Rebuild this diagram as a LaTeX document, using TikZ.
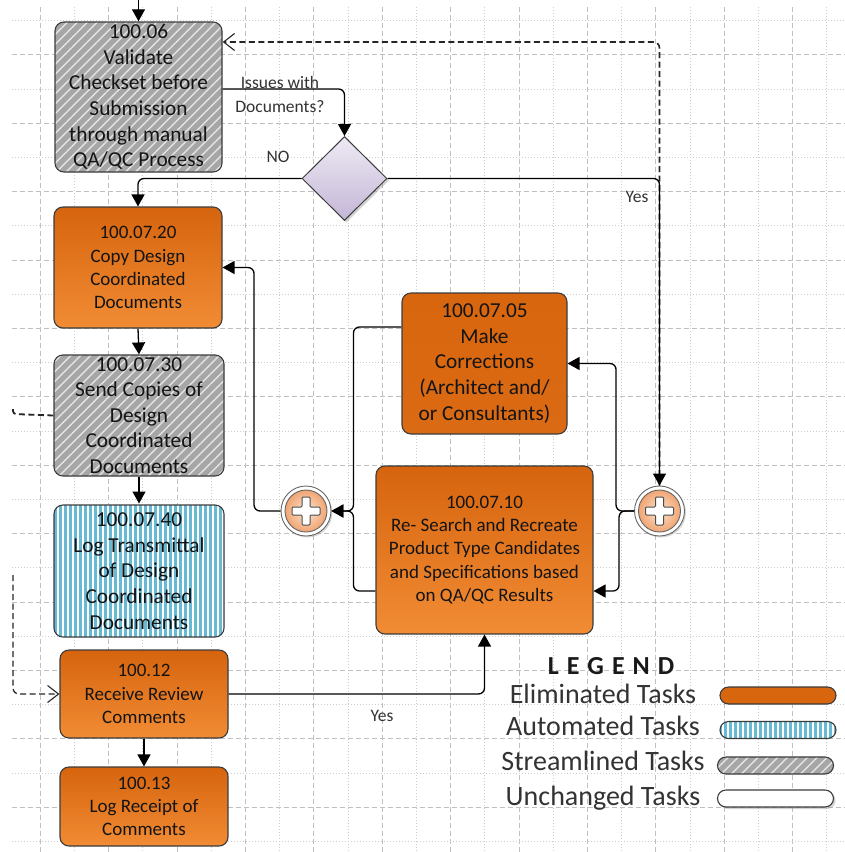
\documentclass[tikz,border=0pt]{standalone}
\usepackage{fontspec}
\setmainfont{Carlito}
\usetikzlibrary{arrows.meta,shapes.geometric,patterns.meta,calc,shadows}

\definecolor{boxline}{RGB}{60,60,60}
\definecolor{txt}{RGB}{20,20,20}
\definecolor{orTop}{RGB}{214,100,14}
\definecolor{orBot}{RGB}{241,140,52}
\definecolor{orFlat}{RGB}{216,102,14}
\definecolor{hatchBg}{RGB}{166,166,166}
\definecolor{hatchLn}{RGB}{228,228,228}
\definecolor{stripeBl}{RGB}{104,186,212}
\definecolor{lavTop}{RGB}{238,234,244}
\definecolor{lavBot}{RGB}{196,182,214}
\definecolor{peachIn}{RGB}{253,228,208}
\definecolor{peachOut}{RGB}{240,165,115}
\definecolor{gridc}{RGB}{192,192,192}

\tikzset{
  task/.style={rectangle, rounded corners=9pt, draw=boxline, line width=1.1pt,
    inner sep=0pt, align=center, text=txt},
  eliminated/.style={task, top color=orTop, bottom color=orBot},
  streamlined/.style={task, preaction={fill=hatchBg},
    pattern={Lines[angle=45,distance=7pt,line width=1.4pt]}, pattern color=hatchLn},
  automated/.style={task, preaction={fill=white},
    pattern={Lines[angle=90,distance=5pt,line width=3pt]}, pattern color=stripeBl},
  bigtxt/.style={font=\fontsize{21.3}{25.6}\selectfont},
  midtxt/.style={font=\fontsize{19}{23.2}\selectfont},
  decision/.style={diamond, minimum width=85pt, minimum height=84pt, inner sep=0pt,
    draw=boxline, line width=1pt, top color=lavTop, bottom color=lavBot,
    drop shadow={opacity=0.35, shadow xshift=2pt, shadow yshift=-2pt}},
  gateway/.style={circle, minimum size=50pt, inner sep=0pt, draw=black!60,
    line width=0.9pt, fill=white,
    drop shadow={opacity=0.3, shadow xshift=1.5pt, shadow yshift=-1.5pt}},
  flow/.style={draw=black, line width=1.3pt, rounded corners=6pt,
    -{Triangle[length=12pt,width=13pt]}},
  msg/.style={draw=black!85, line width=1.6pt, dash pattern=on 6pt off 3.5pt,
    rounded corners=6pt, -{Straight Barb[length=11pt,width=17pt,line width=1.1pt]}},
  msgplain/.style={draw=black!85, line width=1.8pt, dash pattern=on 6pt off 3.5pt,
    rounded corners=3pt},
  lbl/.style={font=\fontsize{17.5}{24}\selectfont, text=black!80, align=center, inner sep=0pt},
  legtxt/.style={font=\fontsize{28}{30}\selectfont, text=black!80, anchor=base},
  pill/.style={rectangle, rounded corners=8.5pt, minimum width=116pt, minimum height=17pt,
    inner sep=0pt, draw=boxline, line width=1.1pt},
}

% inner ring and plus sign of a parallel gateway
\newcommand\gwmark[1]{%
  \shade[inner color=peachIn, outer color=peachOut] (#1.center) circle (21pt);
  \draw[black!60, line width=0.9pt] (#1.center) circle (21pt);
  \filldraw[fill=white, draw=black!70, line width=1pt, rounded corners=1pt, shift={(#1.center)}]
    (-4,-14) -- (4,-14) -- (4,-4) -- (14,-4) -- (14,4) -- (4,4) -- (4,14) -- (-4,14)
    -- (-4,4) -- (-14,4) -- (-14,-4) -- (-4,-4) -- cycle;
}

\begin{document}
\begin{tikzpicture}[x=1pt, y=-1pt]
\useasboundingbox (0,0) rectangle (845,852);
\fill[white] (0,0) rectangle (845,852);

% background grid
\foreach \k in {1,...,24} {
  \pgfmathsetmacro\gx{6+34.2*\k}
  \ifodd\k\relax
    \draw[gridc, line width=1pt, dash pattern=on 5pt off 3pt] (\gx,7) -- (\gx,852);
  \else
    \draw[gridc!80, line width=1pt, dash pattern=on 1.2pt off 1.8pt] (\gx,7) -- (\gx,852);
  \fi
}
\foreach \k in {0,...,24} {
  \pgfmathsetmacro\gy{20.7+34.2*\k}
  \ifodd\k\relax
    \draw[gridc, line width=1pt, dash pattern=on 5pt off 3pt] (12,\gy) -- (845,\gy);
  \else
    \draw[gridc!80, line width=1pt, dash pattern=on 1.2pt off 1.8pt] (12,\gy) -- (845,\gy);
  \fi
}

% tasks
\node[streamlined, bigtxt, minimum width=167pt, minimum height=150pt] (n06) at (138.5,97)
  {100.06\\Validate\\Checkset before\\Submission\\through manual\\QA/QC Process};
\node[eliminated, midtxt, minimum width=168pt, minimum height=121pt] (n0720) at (138,267.5)
  {100.07.20\\Copy Design\\Coordinated\\Documents};
\node[streamlined, bigtxt, minimum width=170pt, minimum height=121pt] (n0730) at (139,415.5)
  {100.07.30\\Send Copies of\\Design\\Coordinated\\Documents};
\node[automated, bigtxt, minimum width=170pt, minimum height=132pt] (n0740) at (139,571)
  {100.07.40\\Log Transmittal\\of Design\\Coordinated\\Documents};
\node[eliminated, midtxt, minimum width=168pt, minimum height=88pt] (n12) at (144,694)
  {100.12\\Receive Review\\Comments};
\node[eliminated, midtxt, minimum width=168pt, minimum height=79pt] (n13) at (144,806.5)
  {100.13\\Log Receipt of\\Comments};
\node[task, bigtxt, top color=orFlat, bottom color=orTop!85!orBot, minimum width=165pt,
  minimum height=141pt] (n0705) at (484.5,363.5)
  {100.07.05\\Make\\Corrections\\(Architect and/\\or Consultants)};
\node[eliminated, midtxt, minimum width=217pt, minimum height=168pt] (n0710) at (484.5,550)
  {100.07.10\\Re- Search and Recreate\\Product Type Candidates\\and Specifications based\\on QA/QC Results};

% decision and gateways
\node[decision] (dm) at (344.5,178.5) {};
\node[gateway] (gR) at (659.5,511) {};
\gwmark{gR}
\node[gateway] (gL) at (306,511) {};
\gwmark{gL}

% free ends of the connectors that leave the frame
\coordinate (topin) at (138.5,0);
\coordinate (msgout) at (13,414);
\coordinate (msgin) at (13,575);

% sequence flows
\draw[flow] (topin) -- (n06.north);
\draw[flow] ($(n06.east)+(0,-8)$) -| (dm.north);
\node[lbl] (lissues) at (280,94) {Issues with\\Documents?};
\draw[flow] (dm.west) -| (n0720.north);
\node[lbl] (lno) at (278,157) {NO};
\draw[msg] (gR.north) |- ($(n06.east)+(0,-55)$);
\draw[flow] (dm.east) -| (gR.north);
\node[lbl] (lyes1) at (637,197) {Yes};
\draw[flow] (gR.west) -- ++(-18,0) |- (n0705.east);
\draw[flow] (gR.west) -- ++(-15,0) |- ($(n0710.east)+(0,41)$);
\draw[flow] ($(n0705.west)+(0,-36.5)$) -| ($(gL.east)+(22,0)$) -- (gL.east);
\draw[flow] ($(n0710.west)+(0,41)$) -| ($(gL.east)+(22,0)$) -- (gL.east);
\draw[flow] (gL.west) -- ++(-26.5,0) |- (n0720.east);
\draw[flow] (n0720.south) -- (n0730.north);
\draw[flow] (n0730.south) -- (n0740.north);
\draw[flow] (n12.south) -- (n13.north);
\draw[flow] (n12.east) -| (n0710.south);
\node[lbl] (lyes2) at (382,716) {Yes};

% message flows
\draw[msgplain] (n0730.west) -- (msgout) -- ++(0,-5);
\draw[msg, line width=1.3pt] (msgin) |- (n12.west);

% legend
\node[legtxt, font=\fontsize{26}{30}\selectfont\bfseries, text=black!90] (legt) at (611,674)
  {L\hspace{8pt}E\hspace{8pt}G\hspace{8pt}E\hspace{8pt}N\hspace{8pt}D};
\node[legtxt] (le1) at (603,703) {Eliminated Tasks};
\node[legtxt] (le2) at (603,735) {Automated Tasks};
\node[legtxt] (le3) at (603,770) {Streamlined Tasks};
\node[legtxt] (le4) at (603,805) {Unchanged Tasks};
\node[pill, fill=orFlat] (p1) at (778,695.5) {};
\node[pill, preaction={fill=white}, pattern={Lines[angle=90,distance=5pt,line width=3pt]},
  pattern color=stripeBl] (p2) at (778,730) {};
\node[pill, preaction={fill=hatchBg}, pattern={Lines[angle=45,distance=7pt,line width=1.4pt]},
  pattern color=hatchLn] (p3) at (775.5,765.5) {};
\node[pill, fill=white, drop shadow={opacity=0.35, shadow xshift=2pt, shadow yshift=-2pt}]
  (p4) at (775.5,798.5) {};
\end{tikzpicture}
\end{document}
